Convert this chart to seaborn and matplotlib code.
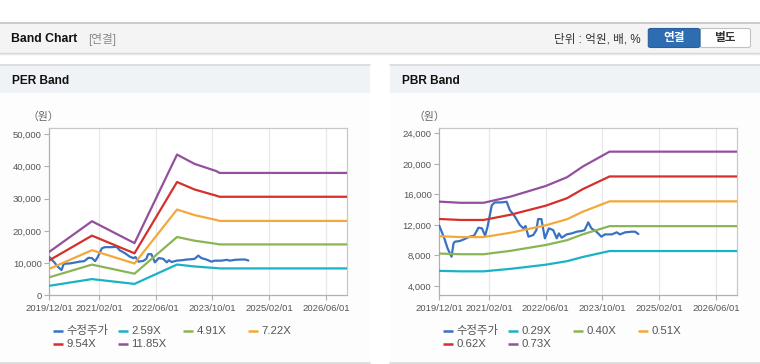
import numpy as np
import pandas as pd
import matplotlib
matplotlib.use("Agg")
import matplotlib.pyplot as plt
import seaborn as sns
from matplotlib.patches import Rectangle, FancyBboxPatch
from matplotlib.lines import Line2D

# ---------------- data ----------------
price_dates = ["2019-12-01", "2020-01-13", "2020-02-10", "2020-03-15", "2020-04-01", "2020-04-12",
               "2020-05-25", "2020-07-05", "2020-08-18", "2020-09-25", "2020-11-01", "2020-12-01",
               "2020-12-28", "2021-01-18", "2021-02-24", "2021-03-22", "2021-05-18", "2021-07-01",
               "2021-07-28", "2021-09-10", "2021-10-22", "2021-11-22", "2021-12-10", "2022-01-04",
               "2022-02-15", "2022-03-13", "2022-03-28", "2022-04-25", "2022-05-25", "2022-06-28",
               "2022-08-04", "2022-09-04", "2022-09-22", "2022-10-16", "2022-11-28", "2023-01-10",
               "2023-02-22", "2023-04-04", "2023-05-01", "2023-06-01", "2023-06-28", "2023-08-10",
               "2023-09-22", "2023-10-22", "2023-12-20", "2024-02-01", "2024-02-28", "2024-04-13",
               "2024-06-07", "2024-07-07", "2024-08-04"]
price_values = [11900, 10240, 8930, 7840, 9585, 9800,
                9890, 10150, 10460, 10590, 11640, 11550,
                10590, 11770, 14600, 14950, 14950, 15040,
                13950, 13080, 11990, 11550, 11860, 10460,
                10680, 11330, 12770, 12770, 10240, 11550,
                11330, 10240, 10890, 10330, 10760, 10890,
                11110, 11200, 11330, 12340, 11550, 11110,
                10460, 10760, 10760, 11030, 10760, 11030,
                11110, 11110, 10810]

per_dates = ["2019-12-01", "2020-12-01", "2021-12-01", "2022-12-01", "2023-05-01",
             "2023-11-01", "2023-12-01", "2026-12-01"]
per_259 = [2950, 5030, 3540, 9550, 8950, 8450, 8350, 8350]
per_491 = [5590, 9530, 6710, 18110, 16950, 16000, 15800, 15800]
per_722 = [8225, 14010, 9870, 26630, 24900, 23400, 23100, 23100]
per_954 = [10870, 18520, 13040, 35180, 32850, 30950, 30600, 30600]
per_1185 = [13500, 23000, 16200, 43700, 40800, 38600, 38000, 38000]
per_labels = ["2.59X", "4.91X", "7.22X", "9.54X", "11.85X"]

pbr_dates = ["2019-12-01", "2020-06-01", "2020-12-15", "2021-08-01", "2022-06-01",
             "2022-12-01", "2023-04-15", "2023-12-01", "2026-12-01"]
pbr_029 = [5980, 5920, 5920, 6240, 6790, 7250, 7800, 8580, 8580]
pbr_040 = [8250, 8160, 8160, 8600, 9370, 10000, 10770, 11840, 11840]
pbr_051 = [10520, 10410, 10410, 10970, 11950, 12750, 13730, 15090, 15090]
pbr_062 = [12780, 12650, 12650, 13330, 14520, 15500, 16690, 18350, 18350]
pbr_073 = [15050, 14900, 14900, 15700, 17100, 18250, 19650, 21600, 21600]
pbr_labels = ["0.29X", "0.40X", "0.51X", "0.62X", "0.73X"]

price_label = "수정주가"
xtick_dates = ["2019-12-01", "2021-02-01", "2022-06-01", "2023-10-01", "2025-02-01", "2026-06-01"]
xtick_labels = ["2019/12/01", "2021/02/01", "2022/06/01", "2023/10/01", "2025/02/01", "2026/06/01"]
per_yticks = [0, 10000, 20000, 30000, 40000, 50000]
pbr_yticks = [4000, 8000, 12000, 16000, 20000, 24000]

price_color = "#3a72c2"
band_colors = ["#1cb2c6", "#8bb455", "#f3a93a", "#d4302c", "#93509c"]

# ---------------- style ----------------
sns.set_theme(style="white")
plt.rcParams["font.family"] = ["Liberation Sans", "Noto Sans CJK KR", "DejaVu Sans"]

W, H = 760, 364
fig = plt.figure(figsize=(W / 100, H / 100), dpi=100)
fig.patch.set_facecolor("white")


def fx(px):
    return px / W


def fy(py):
    return 1 - py / H


def frect(x0, y0, x1, y1, **kw):
    fig.patches.append(Rectangle((fx(x0), fy(y1)), fx(x1) - fx(x0), fy(y0) - fy(y1),
                                 transform=fig.transFigure, **kw))


def fline(x0, y0, x1, y1, **kw):
    fig.add_artist(Line2D([fx(x0), fx(x1)], [fy(y0), fy(y1)], transform=fig.transFigure, **kw))


# top header
frect(0, 22.5, 760, 52.5, facecolor="#f4f4f4", edgecolor="none", zorder=-2)
fline(0, 22.5, 760, 22.5, color="#c4c4c4", lw=1.2)
fline(0, 52.5, 760, 52.5, color="#d6d6d6", lw=1.0)
fline(0, 53.6, 760, 53.6, color="#e8e8e8", lw=1.0)
fig.text(fx(11), fy(39), "Band Chart", fontsize=8.8, fontweight="bold", color="#111111",
         va="center", ha="left")
fig.text(fx(88), fy(39), "[연결]", fontsize=8.4, color="#8a8a8a", va="center", ha="left")
fig.text(fx(641), fy(39), "단위 : 억원, 배, %", fontsize=8.4, color="#333333", va="center", ha="right")
fig.patches.append(FancyBboxPatch((fx(700), fy(47.5)), fx(750.5) - fx(700), fy(28.5) - fy(47.5),
                                  boxstyle="round,pad=0,rounding_size=0.004", transform=fig.transFigure,
                                  facecolor="white", edgecolor="#c2c2c2", lw=0.8, zorder=1))
fig.patches.append(FancyBboxPatch((fx(648.3), fy(47.5)), fx(700) - fx(648.3), fy(28.5) - fy(47.5),
                                  boxstyle="round,pad=0,rounding_size=0.004", transform=fig.transFigure,
                                  facecolor="#2f6db3", edgecolor="#295f9e", lw=0.8, zorder=2))
fig.text(fx(674), fy(38.5), "연결", fontsize=8.4, fontweight="bold", color="white",
         va="center", ha="center", zorder=3)
fig.text(fx(725), fy(38.5), "별도", fontsize=8.4, fontweight="bold", color="#333333",
         va="center", ha="center", zorder=3)

# panels
for (x0, x1, title) in [(0, 370, "PER Band"), (390, 760, "PBR Band")]:
    frect(x0, 64.5, x1, 362.5, facecolor="#fdfdfd", edgecolor="none", zorder=-2)
    frect(x0, 64.5, x1, 93, facecolor="#eff3f8", edgecolor="none", zorder=-1)
    fline(x0, 64.5, x1, 64.5, color="#d8d8d8", lw=1.2)
    fline(x0, 362.8, x1, 362.8, color="#d8d8d8", lw=1.2)
    fig.text(fx(x0 + 12), fy(80.5), title, fontsize=8.6, fontweight="bold", color="#111111",
             va="center", ha="left")


def build_axes(left_px, title_x_px, band_dates, bands, labels, ylim, yticks):
    ax = fig.add_axes([fx(left_px), fy(295.3), (347.3 - 49.3) / W, (295.3 - 128.3) / H])
    ax.set_zorder(5)
    ax.set_facecolor("white")
    pdf = pd.DataFrame({"date": pd.to_datetime(price_dates), "value": price_values})
    sns.lineplot(data=pdf, x="date", y="value", color=price_color, linewidth=1.6, ax=ax,
                 legend=False, zorder=3)
    rows = []
    for lab, vals in zip(labels, bands):
        rows.append(pd.DataFrame({"date": pd.to_datetime(band_dates), "value": vals, "series": lab}))
    bdf = pd.concat(rows, ignore_index=True)
    sns.lineplot(data=bdf, x="date", y="value", hue="series", hue_order=labels,
                 palette=dict(zip(labels, band_colors)), linewidth=1.6, ax=ax, legend=False, zorder=4)
    ax.set_xlim(pd.Timestamp("2019-12-01"), pd.Timestamp("2026-12-01"))
    ax.set_ylim(*ylim)
    xt = pd.to_datetime(xtick_dates)
    ax.set_xticks(xt)
    ax.set_xticklabels(xtick_labels)
    ax.set_yticks(yticks)
    ax.set_yticklabels([f"{v:,}" for v in yticks])
    for t in xt[1:]:
        ax.axvline(t, color="#e8e8e8", lw=0.9, zorder=1)
    ax.set_xlabel("")
    ax.set_ylabel("")
    ax.tick_params(axis="both", labelsize=6.8, labelcolor="#555555", color="#b0b0b0",
                   length=3.5, width=0.8, pad=2, direction="out")
    ax.tick_params(axis="x", pad=2.5)
    ax.tick_params(left=True, bottom=True)
    for s in ["top", "right"]:
        ax.spines[s].set_color("#c8c8c8")
        ax.spines[s].set_linewidth(0.9)
    for s in ["left", "bottom"]:
        ax.spines[s].set_color("#b0b0b0")
        ax.spines[s].set_linewidth(0.9)
    fig.text(fx(title_x_px), fy(116.5), "（원）", fontsize=7.8, color="#666666", va="center", ha="center")

    # legend (two rows, four columns)
    items = [(price_label, price_color)] + list(zip(labels, band_colors))
    base = left_px + 4
    for i, (lab, col) in enumerate(items):
        r, c = divmod(i, 4)
        xm = base + 65 * c
        ym = 330.5 + 13.3 * r
        fline(xm, ym, xm + 10, ym, color=col, lw=1.8, solid_capstyle="butt")
        fig.text(fx(xm + 13), fy(ym), lab, fontsize=8.2, color="#555555", va="center", ha="left")
    return ax


build_axes(49.3, 43, per_dates, [per_259, per_491, per_722, per_954, per_1185], per_labels,
           (0, 51860), per_yticks)
build_axes(439.3, 429, pbr_dates, [pbr_029, pbr_040, pbr_051, pbr_062, pbr_073], pbr_labels,
           (2780, 24660), pbr_yticks)

fig.savefig("out.png", dpi=100, facecolor=fig.get_facecolor())
